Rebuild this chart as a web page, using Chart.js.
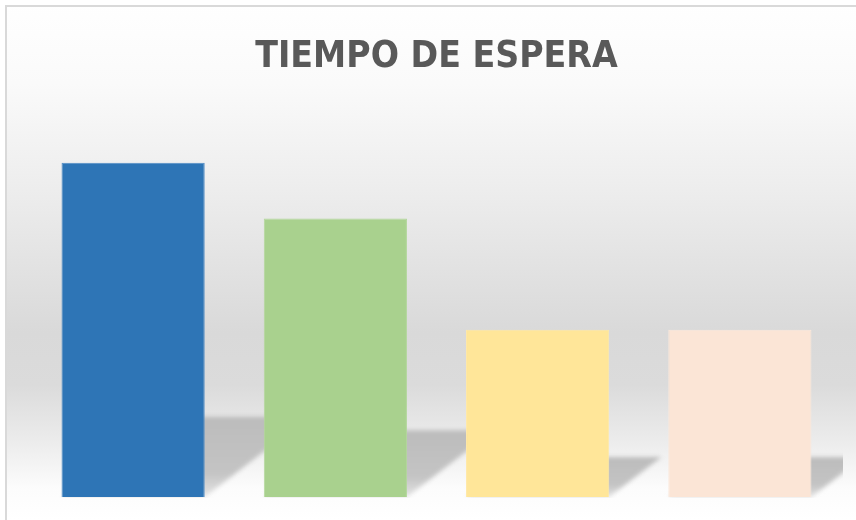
<!DOCTYPE html>
<html>
<head>
<meta charset="utf-8">
<script src="https://cdn.jsdelivr.net/npm/chart.js@4.4.1/dist/chart.umd.min.js"></script>
<style>
html,body{margin:0;padding:0;background:#fff;}
#wrap{width:856px;height:520px;position:relative;}
canvas{display:block;}
</style>
</head>
<body>
<div id="wrap"><canvas id="c" width="856" height="520"></canvas></div>
<script>
const titleText = 'TIEMPO DE ESPERA';
const categories = ['A', 'B', 'C', 'D'];
const values = [12, 10, 6, 6];
const barColors = ['#2e75b6', '#a9d18e', '#ffe699', '#fbe5d6'];
const barBorders = ['#4f8bc4', '#b3d79b', '#ffe9a6', '#fbe8db'];

const bgPlugin = {
  id: 'bg',
  beforeDraw(chart) {
    const ctx = chart.ctx;
    const W = chart.width, H = chart.height;
    ctx.save();
    const g = ctx.createLinearGradient(0, 0, 0, H);
    g.addColorStop(0.0, '#ffffff');
    g.addColorStop(0.16, '#fafafa');
    g.addColorStop(0.38, '#ececec');
    g.addColorStop(0.64, '#d9d9d9');
    g.addColorStop(0.74, '#dbdbdb');
    g.addColorStop(0.85, '#ececec');
    g.addColorStop(0.94, '#fcfcfc');
    g.addColorStop(1.0, '#ffffff');
    ctx.fillStyle = g;
    ctx.fillRect(7, 7, W - 7, H - 7);
    ctx.strokeStyle = '#d9d9d9';
    ctx.lineWidth = 2;
    ctx.beginPath();
    ctx.moveTo(6, H);
    ctx.lineTo(6, 6);
    ctx.lineTo(W, 6);
    ctx.stroke();
    ctx.restore();
  },
  beforeDatasetsDraw(chart) {
    const ctx = chart.ctx;
    const meta = chart.getDatasetMeta(0);
    const area = chart.chartArea;
    ctx.save();
    ctx.beginPath();
    ctx.rect(area.left - 20, area.top, area.right - area.left + 22, area.bottom - area.top + 1);
    ctx.clip();
    ctx.filter = 'blur(2px)';
    meta.data.forEach(bar => {
      const p = bar.getProps(['x', 'y', 'base', 'width'], true);
      const l = p.x - p.width / 2, r = p.x + p.width / 2;
      const h = p.base - p.y;
      const kh = h * 0.24;
      const s = kh * 1.3;
      const g = ctx.createLinearGradient(0, p.base - kh, 0, p.base);
      g.addColorStop(0, '#bcbcbc');
      g.addColorStop(0.7, '#c4c4c4');
      g.addColorStop(1, '#e4e4e4');
      ctx.fillStyle = g;
      ctx.beginPath();
      ctx.moveTo(l, p.base);
      ctx.lineTo(r, p.base);
      ctx.lineTo(r + s, p.base - kh);
      ctx.lineTo(l + s, p.base - kh);
      ctx.closePath();
      ctx.fill();
    });
    ctx.restore();
  }
};

new Chart(document.getElementById('c'), {
  type: 'bar',
  data: {
    labels: categories,
    datasets: [{
      data: values,
      backgroundColor: barColors,
      borderColor: barBorders,
      borderWidth: 1,
      barPercentage: 0.708,
      categoryPercentage: 1.0
    }]
  },
  options: {
    responsive: false,
    animation: false,
    events: [],
    layout: { padding: { left: 32, right: 15, bottom: 23, top: 0 } },
    plugins: {
      legend: { display: false },
      tooltip: { enabled: false },
      title: {
        display: true,
        text: titleText,
        color: '#595959',
        font: { family: "'DejaVu Sans Condensed', 'Open Sans', sans-serif", size: 37, weight: 'bold', lineHeight: 1.2 },
        padding: { top: 34.8, bottom: 27.8 }
      }
    },
    scales: {
      x: { display: false },
      y: { display: false, min: 0, max: 14 }
    }
  },
  plugins: [bgPlugin]
});
</script>
</body>
</html>
